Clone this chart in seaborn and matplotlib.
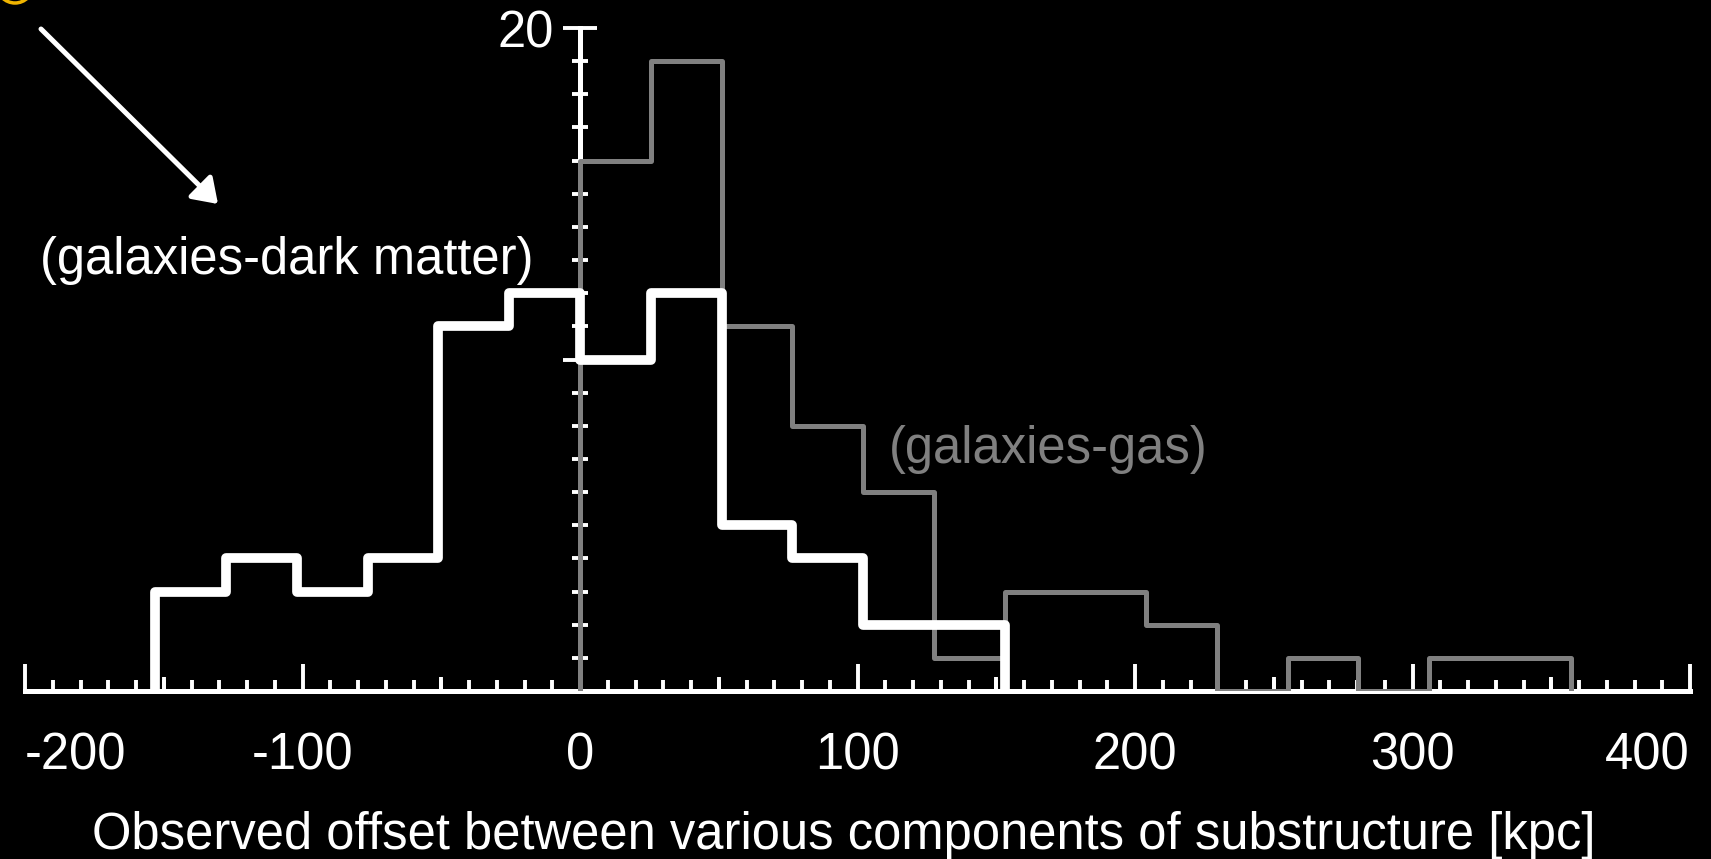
import numpy as np
import pandas as pd
import matplotlib
matplotlib.use('Agg')
import matplotlib.pyplot as plt
import matplotlib.patches as mpatches
from matplotlib.ticker import MultipleLocator, FixedLocator
import seaborn as sns

# Offsets between components of substructure, binned in kpc
dm_edges = [-153, -127.5, -102, -76.5, -51, -25.5, 0, 25.5, 51, 76.5, 102, 127.5, 153]
dm_counts = [3, 4, 3, 4, 11, 12, 10, 12, 5, 4, 2, 2]

gas_edges = [0, 25.5, 51, 76.5, 102, 127.5, 153, 178.5, 204, 229.5, 255, 280.5, 306, 331.5, 357]
gas_counts = [16, 19, 11, 8, 6, 1, 3, 3, 2, 0, 1, 0, 1, 1]

x_ticks = [-200, -100, 0, 100, 200, 300, 400]
x_ticklabels = ['-200', '-100', '0', '100', '200', '300', '400']
x_midticks = [-150, -50, 50, 150, 250, 350]
y_ticks = [10, 20]
y_ticklabels = ['', '20']

sns.set_style('ticks')
plt.rcParams['font.family'] = ['Liberation Sans', 'DejaVu Sans']
FS = 36.5


def to_frame(edges, counts):
    e = np.asarray(edges, dtype=float)
    return pd.DataFrame({'offset': (e[:-1] + e[1:]) / 2, 'n': counts})


def padded(edges):
    # empty zero-width bins at both ends so the step outline drops down to the axis
    return [edges[0]] + list(edges) + [edges[-1]]


fig = plt.figure(figsize=(17.11, 8.59), dpi=100, facecolor='black')
ax = fig.add_axes([25 / 1711, 168 / 859, 1665 / 1711, 663 / 859])
ax.set_facecolor('black')

sns.histplot(data=to_frame(gas_edges, gas_counts), x='offset', weights='n',
             bins=padded(gas_edges), element='step', fill=False,
             color='#808080', lw=3.6, zorder=3, ax=ax)
sns.histplot(data=to_frame(dm_edges, dm_counts), x='offset', weights='n',
             bins=padded(dm_edges), element='step', fill=False,
             color='white', lw=7, zorder=4, ax=ax)

ax.set_xlim(-200, 400)
ax.set_ylim(0, 20)

for side in ['top', 'right']:
    ax.spines[side].set_visible(False)
ax.spines['left'].set_position(('data', 0))
ax.spines['left'].set_bounds(0, 20)
for side in ['left', 'bottom']:
    ax.spines[side].set_color('white')
    ax.spines[side].set_linewidth(3.6)

ax.set_xticks(x_ticks, x_ticklabels)
ax.xaxis.set_minor_locator(MultipleLocator(10))
ax.tick_params(axis='x', which='major', direction='in', length=19.5, width=2.8,
               colors='white', labelsize=FS, pad=29)
ax.tick_params(axis='x', which='minor', direction='in', length=8, width=2.8,
               colors='white')
labels = ax.get_xticklabels()
labels[0].set_ha('left')
labels[-1].set_ha('right')

sec = ax.secondary_xaxis('bottom')
sec.set_xticks(x_midticks)
sec.tick_params(direction='in', length=10, width=2.8, colors='white',
                labelbottom=False)
sec.spines['bottom'].set_visible(False)

ax.set_yticks(y_ticks, y_ticklabels)
ax.yaxis.set_minor_locator(FixedLocator([v for v in range(1, 20) if v != 10]))
ax.tick_params(axis='y', which='major', direction='inout', length=25, width=2.8,
               colors='white', labelsize=FS, pad=6)
ax.tick_params(axis='y', which='minor', direction='inout', length=12, width=2.8,
               colors='white')

ax.set_ylabel('')
ax.set_xlabel('Observed offset between various components of substructure [kpc]',
              color='white', fontsize=FS, labelpad=22)
ax.xaxis.label.set_x(0.492)

ax.text(0.009, 0.65, '(galaxies-dark matter)', transform=ax.transAxes,
        color='white', fontsize=FS, ha='left', va='center')
ax.text(0.519, 0.3635, '(galaxies-gas)', transform=ax.transAxes,
        color='#808080', fontsize=FS, ha='left', va='center')

ax.annotate('', xy=(218 / 1711, 1 - 204 / 859), xytext=(41 / 1711, 1 - 29 / 859),
            xycoords='figure fraction', textcoords='figure fraction',
            arrowprops=dict(arrowstyle='-|>,head_length=0.72,head_width=0.49',
                            color='white', lw=3.6, shrinkA=0, shrinkB=0,
                            mutation_scale=20))

# edge of an orange marker cut off by the top-left corner
fig.patches.append(mpatches.Circle((0.15, 8.74), 0.18, transform=fig.dpi_scale_trans,
                                   facecolor='none', edgecolor='#f0b400', lw=2.5))

fig.savefig('out.png', dpi=100, facecolor='black')
